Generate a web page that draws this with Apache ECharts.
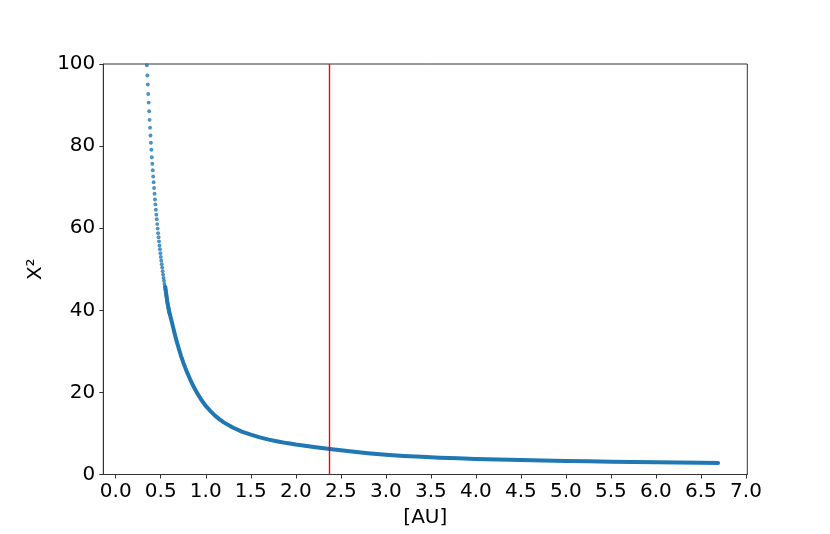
<!DOCTYPE html>
<html>
<head>
<meta charset="utf-8">
<script src="https://cdn.jsdelivr.net/npm/echarts@6/dist/echarts.min.js"></script>
<style>
html,body{margin:0;padding:0;background:#fff;}
#chart{width:830px;height:534px;}
</style>
</head>
<body>
<div id="chart"></div>
<script>
// Sparse dots (upper, steep part of the curve)
const dotX = [0.346,0.351,0.356,0.361,0.366,0.371,0.376,0.381,0.386,0.391,0.396,0.401,0.406,0.411,0.416,0.421,0.426,0.431,0.436,0.441,0.446,0.451,0.456,0.461,0.466,0.471,0.476,0.481,0.486,0.491,0.496,0.501,0.506,0.511,0.516,0.521,0.526,0.531,0.536,0.541,0.546,0.551,0.556,0.561,0.566,0.571,0.576,0.581,0.586,0.591,0.596];
const dotY = [99.7,97.2,95.0,92.7,90.6,88.5,86.4,84.5,82.6,80.8,79.1,77.3,75.7,74.1,72.6,71.2,69.8,68.4,67.0,65.8,64.5,63.3,62.2,61.0,59.9,58.8,57.8,56.8,55.8,54.9,53.9,53.0,52.1,51.2,50.4,49.5,48.7,47.9,47.2,46.4,45.7,45.0,44.3,43.6,43.0,42.3,41.7,41.1,40.5,39.9,39.4];
// Dense part of the curve (points merge into a thick line)
const denseX = [0.551,0.571,0.595,0.625,0.65,0.675,0.70,0.725,0.75,0.775,0.80,0.825,0.85,0.875,0.90,0.95,1.0,1.05,1.1,1.15,1.2,1.3,1.4,1.5,1.6,1.7,1.8,1.9,2.0,2.2,2.4,2.6,2.8,3.0,3.2,3.4,3.6,3.8,4.0,4.25,4.5,4.75,5.0,5.25,5.5,5.75,6.0,6.25,6.5,6.69];
const denseY = [45.7,42.3,39.5,37.0,34.7,32.6,30.7,28.9,27.3,25.85,24.5,23.25,22.1,21.0,20.0,18.2,16.7,15.5,14.4,13.5,12.7,11.45,10.45,9.7,9.05,8.5,8.05,7.65,7.3,6.7,6.15,5.65,5.2,4.82,4.52,4.3,4.1,3.93,3.8,3.65,3.52,3.4,3.3,3.2,3.12,3.05,2.98,2.92,2.87,2.82];
const xTicks = [0.0,0.5,1.0,1.5,2.0,2.5,3.0,3.5,4.0,4.5,5.0,5.5,6.0,6.5,7.0];
const yTicks = [0,20,40,60,80,100];
const redLineX = 2.37;

const blue = '#1f77b4';
const axisCol = '#333';
const font = 'DejaVu Sans';

const chart = echarts.init(document.getElementById('chart'), null, {renderer:'canvas'});
chart.setOption({
  animation:false,
  backgroundColor:'#fff',
  grid:{left:103.3,right:82.7,top:64,bottom:59.5,show:true,borderColor:axisCol,borderWidth:1,backgroundColor:'transparent'},
  xAxis:{
    type:'value', min:-0.138, max:7.015,
    name:'[AU]', nameLocation:'middle', nameGap:33,
    nameTextStyle:{fontFamily:font,fontSize:20,color:'#000'},
    axisLine:{show:true,onZero:false,lineStyle:{color:axisCol,width:1}},
    axisTick:{show:true,length:4,customValues:xTicks,lineStyle:{color:axisCol,width:1}},
    axisLabel:{customValues:xTicks,margin:7,fontFamily:font,fontSize:20,color:'#000',formatter:v=>Number(v).toFixed(1)},
    splitLine:{show:false}
  },
  yAxis:{
    type:'value', min:0, max:100, interval:20,
    name:'X²', nameLocation:'middle', nameGap:57, nameRotate:90,
    nameTextStyle:{fontFamily:font,fontSize:20,color:'#000'},
    axisLine:{show:true,onZero:false,lineStyle:{color:axisCol,width:1}},
    axisTick:{show:true,length:4,customValues:yTicks,lineStyle:{color:axisCol,width:1}},
    axisLabel:{customValues:yTicks,margin:8,fontFamily:font,fontSize:20,color:'#000'},
    splitLine:{show:false}
  },
  series:[
    {
      type:'line',
      data:denseX.map((x,i)=>[x,denseY[i]]),
      showSymbol:false, smooth:false,
      lineStyle:{color:blue,width:4,cap:'round',join:'round'},
      silent:true, z:2,
      markLine:{
        silent:true, symbol:['none','none'], label:{show:false},
        lineStyle:{color:'#ff0000',width:1.4,type:'solid'},
        data:[{xAxis:redLineX}]
      }
    },
    {
      type:'scatter',
      data:dotX.map((x,i)=>[x,dotY[i]]),
      symbol:'circle', symbolSize:3.9,
      itemStyle:{color:blue},
      silent:true, z:3
    }
  ]
});
</script>
</body>
</html>
